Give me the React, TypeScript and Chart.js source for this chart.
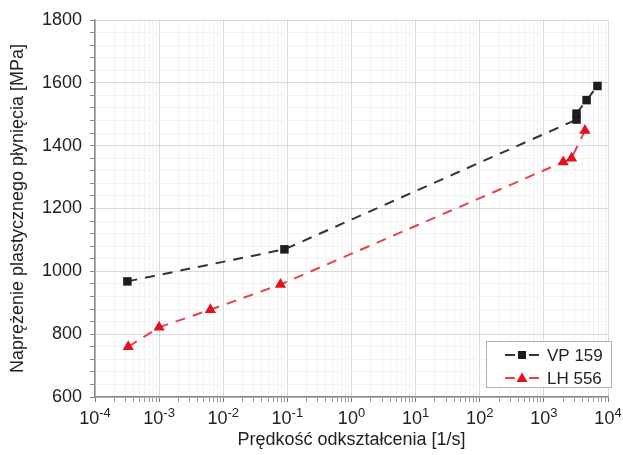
import { useEffect, useRef } from "react";
import { Chart, registerables } from "chart.js";

Chart.register(...registerables);

const vpRate = [3.2e-4, 0.09, 3230, 3230, 4640, 6850];
const vpStress = [968, 1070, 1483, 1502, 1545, 1590];
const lhRate = [3.3e-4, 1e-3, 6.3e-3, 0.078, 2000, 2700, 4370];
const lhStress = [760, 822, 878, 958, 1348, 1360, 1448];
const seriesNames = ["VP 159", "LH 556"];
const xExponents = [-4, -3, -2, -1, 0, 1, 2, 3, 4];
const yMajorStep = 200;
const yMinorStep = 40;
const xTitle = "Prędkość odkształcenia [1/s]";
const yTitle = "Naprężenie plastycznego płynięcia [MPa]";

const FONT = '"Liberation Sans", Arial, sans-serif';
const BLACK = "#1c1c1c";
const RED = "#e3101e";
const RED_LINE = "#e4444c";

function isDecade(v: number) {
  const l = Math.log10(v);
  return Math.abs(l - Math.round(l)) < 1e-6;
}

const xLabelPlugin = {
  id: "xDecadeLabels",
  afterDraw(chart: any) {
    const ctx = chart.ctx;
    const xs = chart.scales.x;
    ctx.save();
    ctx.fillStyle = "#222";
    ctx.textBaseline = "alphabetic";
    xExponents.forEach((e) => {
      const px = xs.getPixelForValue(Math.pow(10, e));
      ctx.font = `18px ${FONT}`;
      const bw = ctx.measureText("10").width;
      ctx.font = `13px ${FONT}`;
      const exp = String(e);
      const ew = ctx.measureText(exp).width;
      const left = px - (bw + ew) / 2;
      ctx.font = `18px ${FONT}`;
      ctx.fillText("10", left, xs.top + 27);
      ctx.font = `13px ${FONT}`;
      ctx.fillText(exp, left + bw, xs.top + 20);
    });
    ctx.restore();
  },
};

const legendPlugin = {
  id: "insideLegend",
  afterDraw(chart: any) {
    const ctx = chart.ctx;
    const area = chart.chartArea;
    const right = area.right + 4;
    const bottom = area.bottom - 9;
    const w = 126;
    const h = 47;
    const left = right - w;
    const top = bottom - h;
    ctx.save();
    ctx.fillStyle = "#ffffff";
    ctx.fillRect(left, top, w, h);
    ctx.strokeStyle = "#b0b0b0";
    ctx.lineWidth = 1;
    ctx.strokeRect(left + 0.5, top + 0.5, w - 1, h - 1);
    const rows = [
      { name: seriesNames[0], color: BLACK, line: "#333", style: "rect" },
      { name: seriesNames[1], color: RED, line: RED_LINE, style: "triangle" },
    ];
    rows.forEach((r, i) => {
      const cy = top + 14 + i * 23;
      const cx = left + 36;
      ctx.strokeStyle = r.line;
      ctx.lineWidth = 2;
      ctx.beginPath();
      ctx.moveTo(cx - 17, cy);
      ctx.lineTo(cx - 7, cy);
      ctx.moveTo(cx + 7, cy);
      ctx.lineTo(cx + 17, cy);
      ctx.stroke();
      ctx.fillStyle = r.color;
      ctx.beginPath();
      if (r.style === "rect") {
        ctx.rect(cx - 4, cy - 4, 8, 8);
      } else {
        ctx.moveTo(cx, cy - 5.5);
        ctx.lineTo(cx + 5.5, cy + 4);
        ctx.lineTo(cx - 5.5, cy + 4);
        ctx.closePath();
      }
      ctx.fill();
      ctx.fillStyle = "#222";
      ctx.font = `17px ${FONT}`;
      ctx.textBaseline = "middle";
      ctx.fillText(r.name, left + 61, cy + 1);
    });
    ctx.restore();
  },
};

export default function App() {
  const ref = useRef<HTMLCanvasElement | null>(null);
  useEffect(() => {
    if (!ref.current) return;
    const xTickValues: number[] = [];
    for (let e = -4; e < 4; e++) {
      for (let m = 1; m <= 9; m++) xTickValues.push(m * Math.pow(10, e));
    }
    xTickValues.push(1e4);
    const chart = new Chart(ref.current, {
      type: "scatter",
      data: {
        datasets: [
          {
            label: seriesNames[0],
            data: vpRate.map((x, i) => ({ x, y: vpStress[i] })),
            showLine: true,
            borderColor: "#333",
            borderWidth: 2,
            borderDash: [10, 8],
            pointStyle: "rect",
            pointRadius: 6,
            pointBackgroundColor: BLACK,
            pointBorderColor: BLACK,
            pointBorderWidth: 0,
          },
          {
            label: seriesNames[1],
            data: lhRate.map((x, i) => ({ x, y: lhStress[i] })),
            showLine: true,
            borderColor: RED_LINE,
            borderWidth: 2,
            borderDash: [10, 8],
            pointStyle: "triangle",
            pointRadius: 6.5,
            pointBackgroundColor: RED,
            pointBorderColor: RED,
            pointBorderWidth: 0,
          },
        ],
      },
      options: {
        responsive: false,
        animation: false,
        devicePixelRatio: 1,
        layout: { padding: { left: 0, right: 15, top: 20, bottom: 0 } },
        plugins: {
          legend: { display: false },
          tooltip: { enabled: false },
        },
        scales: {
          x: {
            type: "logarithmic",
            min: 1e-4,
            max: 1e4,
            afterBuildTicks: (scale: any) => {
              scale.ticks = xTickValues.map((v) => ({ value: v }));
            },
            afterFit: (scale: any) => {
              scale.height = 58;
            },
            ticks: {
              autoSkip: false,
              callback: () => "",
              maxRotation: 0,
            },
            grid: {
              color: (c: any) => (c.tick && isDecade(c.tick.value) ? "#dadada" : "#f2f2f2"),
              lineWidth: 1,
              tickLength: 5,
              tickColor: (c: any) => (c.tick && isDecade(c.tick.value) ? "#777" : "#999"),
            },
            border: { display: true, color: "#8a8a8a", width: 1.5 },
            title: {
              display: true,
              text: xTitle,
              color: "#222",
              font: { family: FONT, size: 18 },
              padding: { top: 0, bottom: 4 },
            },
          },
          y: {
            type: "linear",
            min: 600,
            max: 1800,
            afterFit: (scale: any) => {
              scale.width = 95;
            },
            ticks: {
              stepSize: yMinorStep,
              autoSkip: false,
              padding: 8,
              color: "#222",
              font: { family: FONT, size: 18 },
              callback: (v: any) => (Number(v) % yMajorStep === 0 ? String(v) : ""),
            },
            grid: {
              color: (c: any) => (c.tick && c.tick.value % yMajorStep === 0 ? "#dadada" : "#f2f2f2"),
              lineWidth: 1,
              tickLength: 5,
              tickColor: "#888",
            },
            border: { display: true, color: "#8a8a8a", width: 1.5 },
            title: {
              display: true,
              text: yTitle,
              color: "#222",
              font: { family: FONT, size: 18 },
              padding: { top: 7, bottom: 0 },
            },
          },
        },
      },
      plugins: [xLabelPlugin, legendPlugin],
    } as any);
    return () => chart.destroy();
  }, []);
  return (
    <div style={{ position: "absolute", left: 0, top: 0, width: 623, height: 455, background: "#fff" }}>
      <canvas ref={ref} width={623} height={455} />
    </div>
  );
}
